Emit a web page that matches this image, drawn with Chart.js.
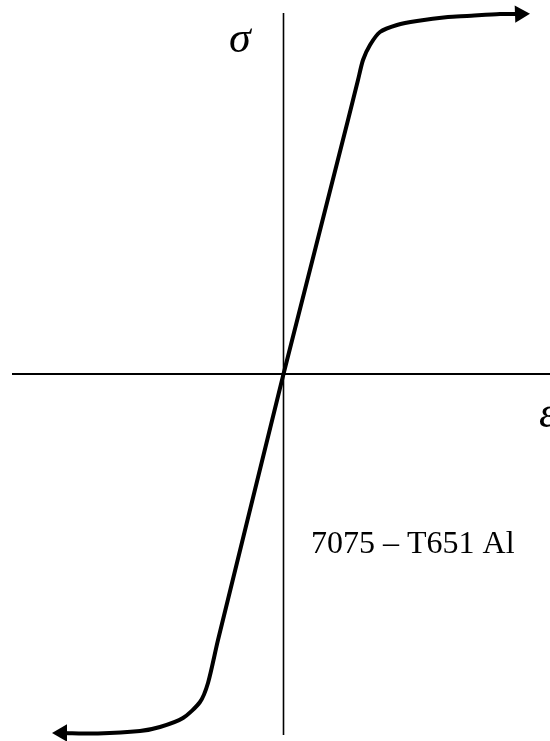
<!DOCTYPE html>
<html>
<head>
<meta charset="utf-8">
<script src="https://cdn.jsdelivr.net/npm/chart.js@4.4.0/dist/chart.umd.min.js"></script>
<style>
  html, body { margin: 0; padding: 0; background: #fff; }
  #wrap { width: 550px; height: 741px; }
</style>
</head>
<body>
<div id="wrap"><canvas id="chart"></canvas></div>
<script>
// Stress-strain curve for 7075-T651 Al (arbitrary units,
// origin at the axes crossing). Last point of each branch carries the arrowhead.
const upperStrain = [0, 64.5, 74.5, 79.5, 86.5, 96.5, 113.5, 133.5, 164.5, 183.5, 216.5, 236.5];
const upperStress = [0, 254, 294, 314, 329, 342, 349, 353, 357, 358, 360, 360];
const lowerStrain = [0, -65.5, -75.5, -83.5, -100.5, -123.5, -143.5, -185.5, -221.5];
const lowerStress = [0, -266, -309, -328, -344, -353, -357, -359.5, -359];

// extent of the drawn axes
const strainAxis = [-271.5, 266.5];
const stressAxis = [361, -361];

const materialLabel = '7075 – T651 Al';

const toPoints = (xs, ys) => xs.map((x, i) => ({ x, y: ys[i] }));
const arrowAtEnd = n => ctx => (ctx.dataIndex === n - 1 ? 10 : 0);

const labelsPlugin = {
  id: 'labels',
  afterDraw(chart) {
    const c = chart.ctx;
    c.save();
    c.fillStyle = '#000';
    c.textBaseline = 'alphabetic';
    c.font = 'italic 44px "Liberation Serif", serif';
    c.fillText('σ', 229, 52);
    c.fillText('ε', 539, 427);
    c.font = '32px "Liberation Serif", serif';
    c.fillText(materialLabel, 311, 553);
    c.restore();
  }
};

const datasets = [
  {
    data: strainAxis.map(x => ({ x, y: 0 })),
    borderColor: '#000', borderWidth: 2, pointRadius: 0, clip: false
  },
  {
    data: stressAxis.map(y => ({ x: 0, y })),
    borderColor: '#000', borderWidth: 1.6, pointRadius: 0, clip: false
  },
  {
    data: toPoints(upperStrain, upperStress),
    borderColor: '#000', borderWidth: 4, tension: 0.25, clip: false,
    pointStyle: 'triangle', rotation: 88,
    pointRadius: arrowAtEnd(upperStrain.length),
    pointBackgroundColor: '#000', pointBorderWidth: 0
  },
  {
    data: toPoints(lowerStrain, lowerStress),
    borderColor: '#000', borderWidth: 4, tension: 0.25, clip: false,
    pointStyle: 'triangle', rotation: -90,
    pointRadius: arrowAtEnd(lowerStrain.length),
    pointBackgroundColor: '#000', pointBorderWidth: 0
  }
];

new Chart(document.getElementById('chart').getContext('2d'), {
  type: 'line',
  data: { datasets },
  options: {
    responsive: true,
    maintainAspectRatio: false,
    animation: false,
    parsing: false,
    layout: { padding: 0, autoPadding: false },
    plugins: { legend: { display: false }, tooltip: { enabled: false } },
    scales: {
      x: { type: 'linear', min: -283.5, max: 266.5, display: false },
      y: { type: 'linear', min: -367, max: 374, display: false }
    }
  },
  plugins: [labelsPlugin]
});
</script>
</body>
</html>
